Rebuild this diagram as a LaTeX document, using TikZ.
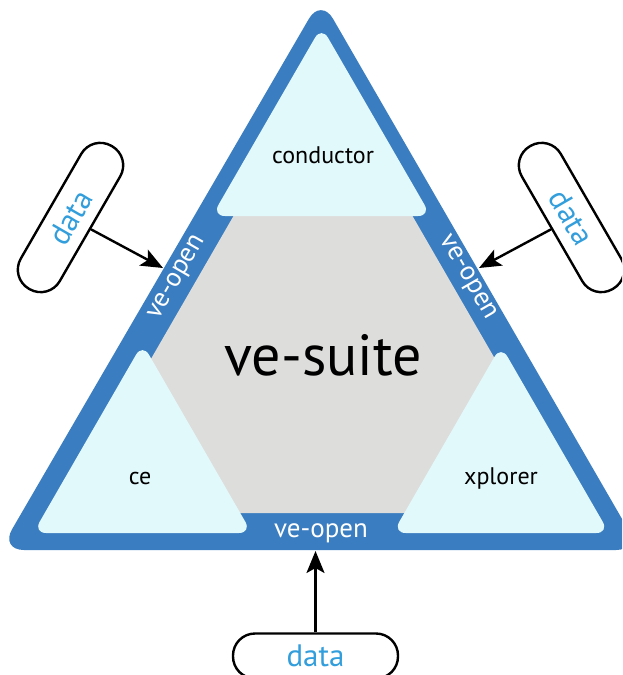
\documentclass[tikz,border=0pt]{standalone}
\usepackage{fontspec}
\setmainfont{PT Sans}
\usetikzlibrary{arrows.meta}
\definecolor{bandblue}{RGB}{58,125,192}
\definecolor{paleCyan}{RGB}{226,249,252}
\definecolor{suitegray}{RGB}{221,221,219}
\definecolor{datablue}{RGB}{50,158,220}
\tikzset{
  bandshape/.style={fill=bandblue, rounded corners=24pt},
  lobe/.style={fill=paleCyan, rounded corners=13pt},
  corelbl/.style={font=\fontsize{24}{28}\selectfont, text=black, inner sep=0pt},
  openlbl/.style={font=\fontsize{27}{31}\selectfont, text=white, inner sep=0pt},
  pill/.style={draw=black, line width=2.4pt, rounded corners=22pt, minimum width=165pt,
    minimum height=45pt, inner sep=0pt, fill=white, text=datablue,
    font=\fontsize{31}{35}\selectfont},
  flow/.style={-{Stealth[length=22pt,width=18pt,inset=5pt]}, line width=2.4pt, draw=black},
}
\begin{document}
\begin{tikzpicture}[x=1pt,y=-1pt]
\useasboundingbox (0,0) rectangle (622,675);
\clip (0,0) rectangle (622,675);
\fill[white] (0,0) rectangle (622,675);
% outer blue triangle
\fill[bandshape] (321,-2) -- (640,550) -- (0,550) -- cycle;
% grey core
\fill[suitegray] (323,61) -- (584,513) -- (62,513) -- cycle;
% three light lobes
\fill[lobe] (321.5,26.5) -- (431,216) -- (212,216) -- cycle;
\fill[lobe] (142.5,343.5) -- (251.8,533) -- (33.2,533) -- cycle;
\fill[lobe] (501,345.5) -- (609.2,533) -- (392.8,533) -- cycle;
% labels
\node[corelbl] (cond) at (323,155) {conductor};
\node[corelbl] (ce) at (140,478) {ce};
\node[corelbl] (xpl) at (501,478) {xplorer};
\node[font=\fontsize{58}{64}\selectfont, inner sep=0pt] (suite) at (323,355) {ve-suite};
\node[openlbl] (vob) at (321,533) {ve-open};
\node[openlbl, rotate=60] (vol) at (178,278) {ve-open};
\node[openlbl, rotate=-60] (vor) at (467,278) {ve-open};
% data pills
\node[pill, rotate=60] (dl) at (70.5,217.5) {data};
\node[pill, rotate=-60] (dr) at (571.5,217.5) {data};
\node[pill] (db) at (315.5,656) {data};
% arrow targets on the outer edge
\coordinate (tl) at (163,268);
\coordinate (tr) at (479,268);
\coordinate (tb) at (315.5,551);
\draw[flow] (dl.south) -- (tl);
\draw[flow] (dr.south) -- (tr);
\draw[flow] (db.north) -- (tb);
\end{tikzpicture}
\end{document}
